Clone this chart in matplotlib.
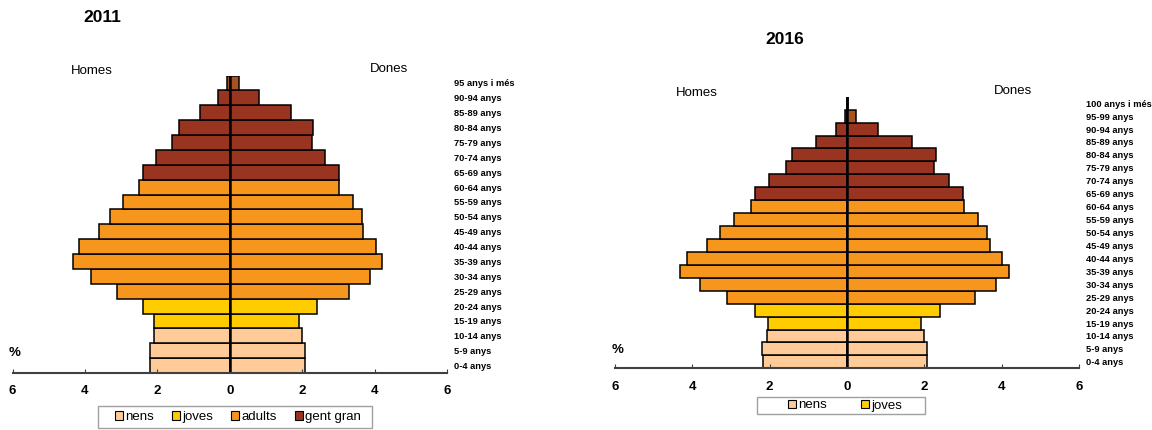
import matplotlib
matplotlib.use("Agg")
import matplotlib.pyplot as plt
from matplotlib.patches import Patch, Rectangle
import numpy as np

plt.rcParams["font.family"] = ["Liberation Sans", "DejaVu Sans"]

# ---------------------------------------------------------------------------
# Data (% of population per age group)
# ---------------------------------------------------------------------------
ages_2011 = ["0-4 anys", "5-9 anys", "10-14 anys", "15-19 anys", "20-24 anys",
             "25-29 anys", "30-34 anys", "35-39 anys", "40-44 anys", "45-49 anys",
             "50-54 anys", "55-59 anys", "60-64 anys", "65-69 anys", "70-74 anys",
             "75-79 anys", "80-84 anys", "85-89 anys", "90-94 anys", "95 anys i més"]
homes_2011 = [2.19, 2.19, 2.08, 2.08, 2.39, 3.11, 3.83, 4.33, 4.16, 3.62,
              3.30, 2.94, 2.52, 2.39, 2.04, 1.60, 1.41, 0.83, 0.32, 0.08]
dones_2011 = [2.08, 2.08, 1.99, 1.91, 2.41, 3.30, 3.86, 4.21, 4.03, 3.68,
              3.64, 3.40, 3.03, 3.01, 2.63, 2.27, 2.30, 1.69, 0.81, 0.26]
groups_2011 = (["nens"] * 3 + ["joves"] * 2 + ["adults"] * 8 + ["gent gran"] * 6
               + ["molt gran"])

ages_2016 = ["0-4 anys", "5-9 anys", "10-14 anys", "15-19 anys", "20-24 anys",
             "25-29 anys", "30-34 anys", "35-39 anys", "40-44 anys", "45-49 anys",
             "50-54 anys", "55-59 anys", "60-64 anys", "65-69 anys", "70-74 anys",
             "75-79 anys", "80-84 anys", "85-89 anys", "90-94 anys", "95-99 anys",
             "100 anys i més"]
homes_2016 = [2.17, 2.19, 2.06, 2.05, 2.39, 3.11, 3.80, 4.31, 4.15, 3.61,
              3.28, 2.93, 2.49, 2.39, 2.03, 1.58, 1.41, 0.81, 0.29, 0.05, 0.01]
dones_2016 = [2.08, 2.08, 1.99, 1.91, 2.40, 3.30, 3.85, 4.20, 4.02, 3.69,
              3.62, 3.38, 3.02, 3.01, 2.64, 2.25, 2.29, 1.69, 0.81, 0.22, 0.02]
groups_2016 = (["nens"] * 3 + ["joves"] * 2 + ["adults"] * 8 + ["gent gran"] * 6
               + ["molt gran"] * 2)

group_colors = {
    "nens": "#FFCC99",
    "joves": "#FFCC00",
    "adults": "#F7961D",
    "gent gran": "#993420",
    "molt gran": "#A8521F",
}
xticks = [-6, -4, -2, 0, 2, 4, 6]


def draw_pyramid(ax, ages, homes, dones, groups):
    y = np.arange(len(ages))
    colors = [group_colors[g] for g in groups]
    ax.barh(y, -np.asarray(homes), height=1.0, color=colors,
            edgecolor="black", linewidth=1.1)
    ax.barh(y, dones, height=1.0, color=colors,
            edgecolor="black", linewidth=1.1)
    ax.axvline(0, color="black", linewidth=1.8)

    ax.set_xlim(-6, 6)
    ax.set_ylim(-0.5, len(ages) - 0.5)
    ax.set_xticks(xticks)
    ax.set_xticklabels([str(abs(t)) for t in xticks], fontsize=9.5,
                       fontweight="bold")
    ax.tick_params(axis="x", direction="in", length=3, color="#404040", pad=9)

    ax.yaxis.tick_right()
    ax.set_yticks(y)
    ax.set_yticklabels(ages, fontsize=6.7, fontweight="bold")
    ax.tick_params(axis="y", length=0, pad=5)

    for side in ["top", "left", "right"]:
        ax.spines[side].set_visible(False)
    ax.spines["bottom"].set_color("#404040")
    ax.spines["bottom"].set_linewidth(1.5)


def add_legend(fig, names, center, box, spacing):
    handles = [Patch(facecolor=group_colors[g], edgecolor="black", linewidth=0.8)
               for g in names]
    fig.legend(handles, names, loc="center", ncol=len(names),
               bbox_to_anchor=center, fontsize=9.5, frameon=False,
               handlelength=0.6, handleheight=0.6, handletextpad=0.15,
               columnspacing=spacing, borderpad=0.2, borderaxespad=0)
    x0, y0, x1, y1 = box
    fig.patches.append(Rectangle((x0 / 1152, 1 - y1 / 430), (x1 - x0) / 1152,
                                 (y1 - y0) / 430, transform=fig.transFigure,
                                 facecolor="none", edgecolor="#A0A0A0",
                                 linewidth=1.0))


fig = plt.figure(figsize=(11.52, 4.30), dpi=100)

# 2011
ax1 = fig.add_axes([12.5 / 1152, 1 - 373 / 430, 434.5 / 1152, (373 - 75.5) / 430])
draw_pyramid(ax1, ages_2011, homes_2011, dones_2011, groups_2011)
fig.text(102 / 1152, 1 - 18 / 430, "2011", fontsize=12.5, fontweight="bold",
         ha="center", va="center")
fig.text(92 / 1152, 1 - 71 / 430, "Homes", fontsize=9.5, ha="center", va="center")
fig.text(389 / 1152, 1 - 69 / 430, "Dones", fontsize=9.5, ha="center", va="center")
fig.text(15 / 1152, 1 - 353 / 430, "%", fontsize=9.5, fontweight="bold",
         ha="center", va="center")
add_legend(fig, ["nens", "joves", "adults", "gent gran"],
           (238 / 1152, 1 - 417 / 430), (98, 406, 372, 428), 1.4)

# 2016
ax2 = fig.add_axes([615 / 1152, 1 - 368.3 / 430, 464 / 1152, (368.3 - 96.7) / 430])
draw_pyramid(ax2, ages_2016, homes_2016, dones_2016, groups_2016)
fig.text(785 / 1152, 1 - 40 / 430, "2016", fontsize=12.5, fontweight="bold",
         ha="center", va="center")
fig.text(697 / 1152, 1 - 93 / 430, "Homes", fontsize=9.5, ha="center", va="center")
fig.text(1013 / 1152, 1 - 91 / 430, "Dones", fontsize=9.5, ha="center", va="center")
fig.text(618 / 1152, 1 - 350 / 430, "%", fontsize=9.5, fontweight="bold",
         ha="center", va="center")
add_legend(fig, ["nens", "joves"], (845 / 1152, 1 - 405.5 / 430),
           (757, 397, 925, 414), 2.6)

fig.savefig("out.png", dpi=100)
